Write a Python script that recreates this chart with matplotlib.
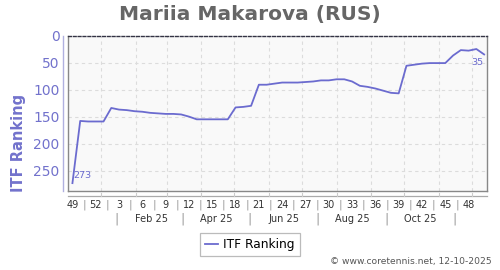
import numpy as np
import pandas as pd
import matplotlib
matplotlib.use('Agg')
import matplotlib.pyplot as plt
import matplotlib.dates as mdates
import matplotlib.transforms as mtransforms

# Weekly ITF ranking values
ranking = [273, 158, 159, 159, 159, 134, 137, 138, 140, 141,
           143, 144, 145, 145, 146, 150, 155, 155, 155, 155,
           155, 133, 132, 130, 91, 91, 89, 87, 87, 87,
           86, 85, 83, 83, 81, 81, 85, 93, 95, 98,
           102, 106, 107, 56, 54, 52, 51, 51, 51, 37,
           27, 28, 25, 35]
dates = pd.date_range('2024-12-06', periods=len(ranking), freq='7D')
week_labels = ['49', '52', '3', '6', '9', '12', '15', '18', '21', '24',
               '27', '30', '33', '36', '39', '42', '45', '48']
month_labels = ['Feb 25', 'Apr 25', 'Jun 25', 'Aug 25', 'Oct 25']
month_label_dates = ['2025-02-15', '2025-04-15', '2025-06-15', '2025-08-15', '2025-10-15']
month_sep_dates = ['2025-01-15', '2025-03-15', '2025-05-15', '2025-07-15', '2025-09-15', '2025-11-15']
grid_months = pd.date_range('2025-01-01', '2025-12-01', freq='MS')

line_color = '#6b6bcf'
text_blue = '#7272cc'

fig = plt.figure(figsize=(5, 2.7), dpi=100)
ax = fig.add_axes([0.136, 0.2937, 0.838, 0.5748])
ax.set_facecolor('#f9f9f9')

x = mdates.date2num(dates)
ax.plot(x, ranking, color=line_color, lw=1.3)

ax.set_ylim(287, 0)
ax.set_xlim(mdates.date2num(pd.Timestamp('2024-12-02')),
            mdates.date2num(pd.Timestamp('2025-12-14 14:00')))

ax.set_yticks([0, 50, 100, 150, 200, 250])
ax.tick_params(axis='y', length=0, pad=6, labelsize=10, labelcolor=text_blue)
ax.set_xticks(mdates.date2num(grid_months))
ax.tick_params(axis='x', length=0, labelbottom=False)
ax.grid(True, color='#dcdcdc', ls=(0, (3, 3)), lw=0.8)

for side in ['left', 'right', 'bottom']:
    ax.spines[side].set_color('#888888')
    ax.spines[side].set_linewidth(1.0)
ax.spines['top'].set_color('#333344')
ax.spines['top'].set_linestyle((0, (2, 1.5)))
ax.spines['top'].set_linewidth(1.0)

ax.set_ylabel('ITF Ranking', fontsize=10.5, fontweight='bold', color=text_blue, labelpad=8)
ax.yaxis.set_label_coords(-0.1, 0.31)

# light y axis line left of the plot
ax.plot([-0.012, -0.012], [0, 1], transform=ax.transAxes, color='#b0b0e0',
        lw=1.0, clip_on=False)

# secondary x axis line with month ticks
trans = mtransforms.blended_transform_factory(ax.transData, ax.transAxes)
ax.plot([0, 1], [-0.032, -0.032], transform=ax.transAxes, color='#aaaaaa',
        lw=0.9, clip_on=False)
for d in grid_months:
    ax.plot([mdates.date2num(d)] * 2, [-0.032, -0.018], transform=trans,
            color='#cccccc', lw=0.8, clip_on=False)

# week labels with separators
for k, lab in enumerate(week_labels):
    xi = x[3 * k]
    ax.text(xi, -0.092, lab, transform=trans, ha='center', va='center',
            fontsize=7, color='#333333')
    if k < len(week_labels) - 1:
        xs = (x[3 * k] + x[3 * k + 3]) / 2
        ax.text(xs, -0.092, '|', transform=trans, ha='center', va='center',
                fontsize=8, color='#999999')

# month labels with separators
for lab, d in zip(month_labels, month_label_dates):
    ax.text(mdates.date2num(pd.Timestamp(d)), -0.183, lab, transform=trans,
            ha='center', va='center', fontsize=7, color='#333333')
for d in month_sep_dates:
    ax.text(mdates.date2num(pd.Timestamp(d)), -0.183, '|', transform=trans,
            ha='center', va='center', fontsize=9, color='#999999')

# first and last value annotations
ax.annotate(str(ranking[0]), xy=(x[0], ranking[0]), xytext=(0.5, 5.5),
            textcoords='offset points', ha='left', va='center',
            fontsize=6.8, color=line_color)
ax.annotate(str(ranking[-1]), xy=(x[-1], ranking[-1]), xytext=(-0.5, -6),
            textcoords='offset points', ha='right', va='center',
            fontsize=6.8, color=line_color)

fig.text(0.5, 0.948, 'Mariia Makarova (RUS)', ha='center', va='center',
         fontsize=14.5, fontweight='bold', color='#666666')

leg = fig.legend(handles=ax.lines[:1], labels=['ITF Ranking'], loc='center',
                 bbox_to_anchor=(0.5, 0.0944), fontsize=8.7, frameon=True,
                 fancybox=False, edgecolor='#aaaaaa', handlelength=1.1,
                 handletextpad=0.4, borderpad=0.45)
leg.get_frame().set_linewidth(0.9)

fig.text(0.984, 0.03, '\u00a9 www.coretennis.net, 12-10-2025', ha='right',
         va='center', fontsize=6.6, color='#555555')

fig.savefig('out.png', dpi=100)
